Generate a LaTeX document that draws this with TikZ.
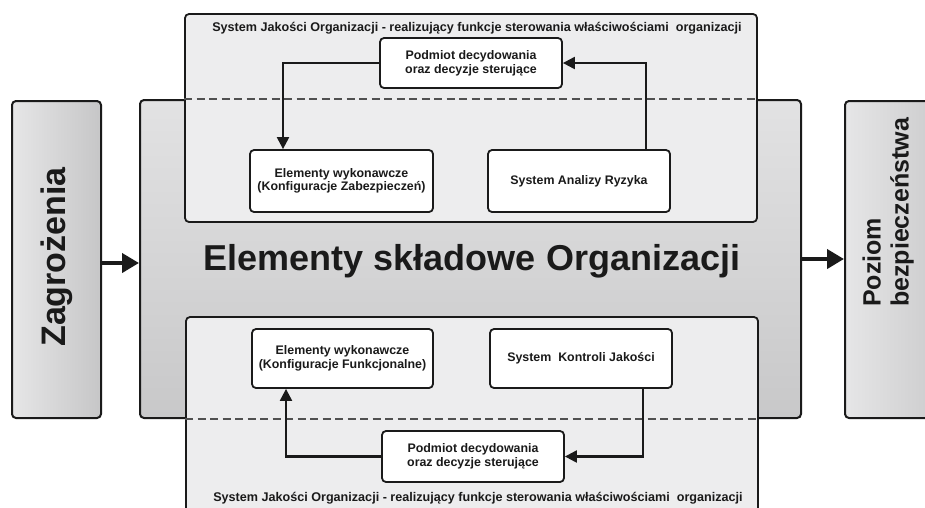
\documentclass[tikz,border=0pt]{standalone}
\usepackage{fontspec}
\setmainfont{Liberation Sans}
\usetikzlibrary{arrows.meta,positioning}
\definecolor{qfill}{HTML}{EDEDEE}
\definecolor{mainlight}{HTML}{E2E2E3}
\definecolor{maindark}{HTML}{C8C8C9}
\definecolor{sidelight}{HTML}{E6E6E7}
\definecolor{sidedark}{HTML}{C6C6C7}
\definecolor{ink}{HTML}{1A1A1A}
\definecolor{dashcol}{HTML}{505050}
\tikzset{
  bigbox/.style={draw=ink, line width=2pt, rounded corners=4pt, inner sep=0pt},
  qbox/.style={draw=ink, line width=1.8pt, rounded corners=4pt, fill=qfill, inner sep=0pt},
  smallbox/.style={draw=ink, line width=1.8pt, rounded corners=4pt, fill=white, inner sep=0pt, align=center,
    font=\fontsize{12.4}{13.6}\selectfont\bfseries, text=ink},
  flow/.style={draw=ink, line width=2.2pt, -{Triangle[length=12pt,width=12pt]}},
  bigflow/.style={draw=ink, line width=4pt, -{Triangle[length=17pt,width=19pt]}},
  sep/.style={draw=dashcol, line width=1.5pt, dash pattern=on 8pt off 4.5pt},
  caption/.style={font=\fontsize{12.6}{14}\selectfont\bfseries, text=ink, inner sep=0pt}
}
\begin{document}
\begin{tikzpicture}[x=1pt,y=-1pt]
\useasboundingbox (0,0) rectangle (925,507);
\clip (0,0) rectangle (925,507);
% side boxes
\node[bigbox, left color=sidelight, right color=sidedark, shading angle=90,
      minimum width=89pt, minimum height=317pt] (zag) at (56.5,259.5) {};
\node[rotate=90, font=\fontsize{34}{40}\selectfont\bfseries, text=ink] (zagt) at (57,257) {Zagrożenia};
\node[bigbox, left color=sidelight, right color=sidedark, shading angle=90,
      minimum width=115pt, minimum height=317pt] (poz) at (902.5,259.5) {};
\node[rotate=90, anchor=south west, align=left, inner sep=0pt,
      font=\fontsize{25}{28}\selectfont\bfseries, text=ink] (pozt) at (914,307) {Poziom\\bezpieczeństwa};
% main box
\node[bigbox, top color=mainlight, bottom color=maindark,
      minimum width=661pt, minimum height=318pt] (main) at (470.5,259) {};
\node[font=\fontsize{36}{40}\selectfont\bfseries, text=ink] (maint) at (472,261) {Elementy składowe Organizacji};
% quality boxes
\node[qbox, minimum width=572pt, minimum height=208pt] (qtop) at (471,118) {};
\node[qbox, minimum width=572pt, minimum height=208pt] (qbot) at (472,421) {};
\draw[sep] (qtop.west |- main.north) -- (qtop.east |- main.north);
\draw[sep] (qbot.west |- main.south) -- (qbot.east |- main.south);
\node[caption] (tt) at (477,28) {System Jakości Organizacji - realizujący funkcje sterowania właściwościami\ \ organizacji};
\node[caption] (tb) at (478,498) {System Jakości Organizacji - realizujący funkcje sterowania właściwościami\ \ organizacji};
% top inner boxes
\node[smallbox, minimum width=182pt, minimum height=50pt] (ptop) at (471,63) {Podmiot decydowania\\oraz decyzje sterujące};
\node[smallbox, minimum width=183pt, minimum height=62pt] (etop) at (341.5,181) {Elementy wykonawcze\\(Konfiguracje Zabezpieczeń)};
\node[smallbox, minimum width=182pt, minimum height=62pt] (atop) at (579,181) {System Analizy Ryzyka};
% bottom inner boxes
\node[smallbox, minimum width=181pt, minimum height=59pt] (ebot) at (342.5,358.5) {Elementy wykonawcze\\(Konfiguracje Funkcjonalne)};
\node[smallbox, minimum width=182pt, minimum height=59pt] (kbot) at (581,358.5) {System\ \ Kontroli Jakości};
\node[smallbox, minimum width=182pt, minimum height=51pt] (pbot) at (473,456.5) {Podmiot decydowania\\oraz decyzje sterujące};
% connectors
\draw[flow] (ptop.west) -| ([xshift=-58.5pt]etop.north);
\draw[flow] ([xshift=67pt]atop.north) |- (ptop.east);
\draw[flow] ([xshift=62pt]kbot.south) |- (pbot.east);
\draw[flow] (pbot.west) -| ([xshift=-56.5pt]ebot.south);
\draw[bigflow] ([yshift=-3.5pt]zag.east) -- ([yshift=-3.5pt]zag.east -| main.west);
\draw[bigflow] (main.east) -- (main.east -| poz.west);
\end{tikzpicture}
\end{document}
